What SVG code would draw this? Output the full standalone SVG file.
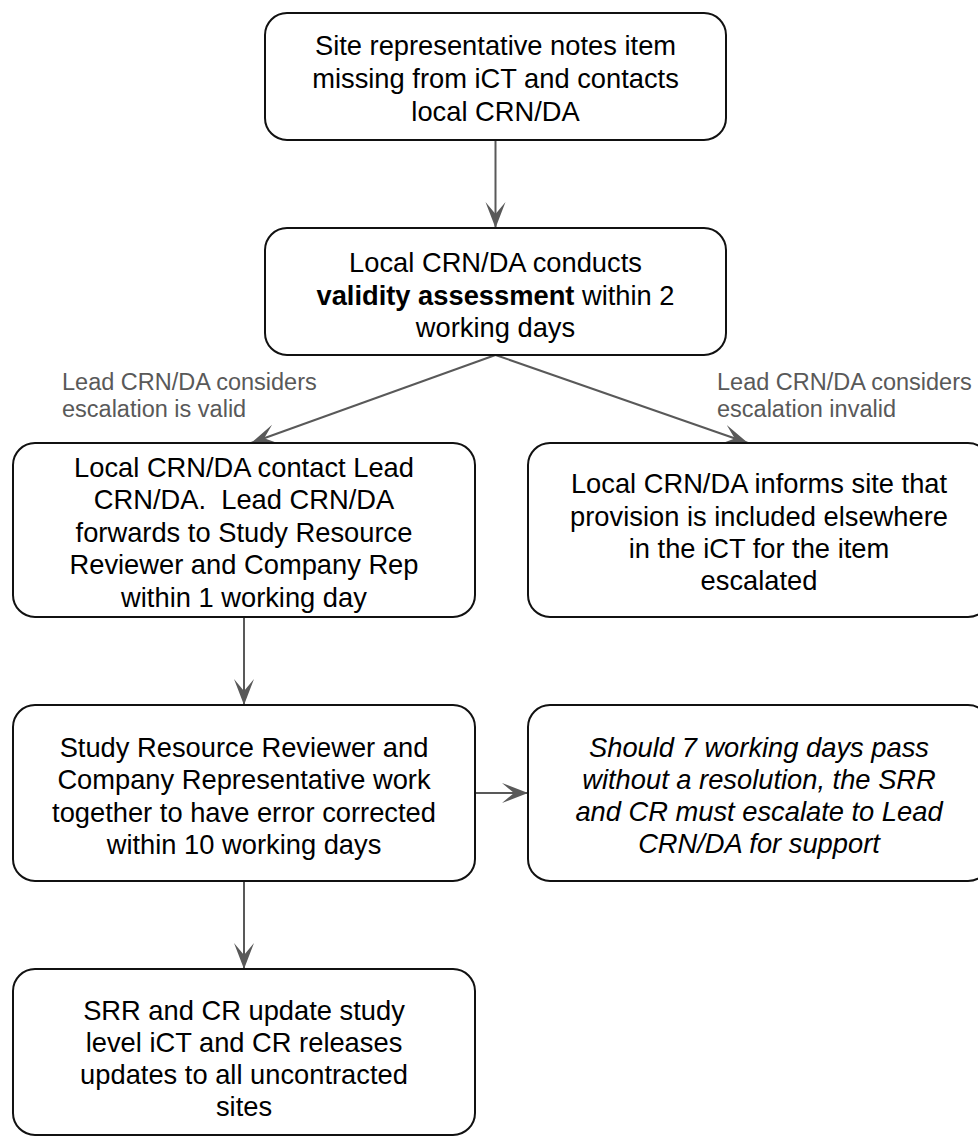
<svg xmlns="http://www.w3.org/2000/svg" width="978" height="1137" viewBox="0 0 978 1137">
<style>
.box{fill:#fff;stroke:#111;stroke-width:2}
.t{font-family:"Liberation Sans",Arial,sans-serif;font-size:27.3px;fill:#000;text-anchor:middle}
.i{font-style:italic}
.lbl{font-family:"Liberation Sans",Arial,sans-serif;font-size:23.5px;fill:#595959}
.c{stroke:#595959;stroke-width:2;fill:none}
</style>
<defs>
<marker id="ah" markerUnits="userSpaceOnUse" markerWidth="28" markerHeight="22" refX="26" refY="10" orient="auto">
<path d="M0,0 L26,10 L0,20 L12,10 Z" fill="#595959"/>
</marker>
</defs>
<rect width="978" height="1137" fill="#fff"/>
<g id="connectors">
<line class="c" x1="495.5" y1="141" x2="495.5" y2="228" marker-end="url(#ah)"/>
<line class="c" x1="495.5" y1="355" x2="251" y2="443" marker-end="url(#ah)"/>
<line class="c" x1="495.5" y1="355" x2="748" y2="443" marker-end="url(#ah)"/>
<line class="c" x1="244" y1="617" x2="244" y2="705" marker-end="url(#ah)"/>
<line class="c" x1="475" y1="793" x2="528" y2="793" marker-end="url(#ah)"/>
<line class="c" x1="244" y1="881" x2="244" y2="969" marker-end="url(#ah)"/>
<text class="lbl" x="62" y="390">Lead CRN/DA considers</text>
<text class="lbl" x="62" y="417">escalation is valid</text>
<text class="lbl" x="717" y="390">Lead CRN/DA considers</text>
<text class="lbl" x="717" y="417">escalation invalid</text>
</g>
<g id="n1">
<rect class="box" x="265" y="13" width="461" height="127" rx="22"/>
<text class="t" x="495.5" y="55">Site representative notes item</text>
<text class="t" x="495.5" y="88">missing from iCT and contacts</text>
<text class="t" x="495.5" y="120.5">local CRN/DA</text>
</g>
<g id="n2">
<rect class="box" x="265" y="228" width="461" height="127" rx="22"/>
<text class="t" x="495.5" y="272">Local CRN/DA conducts</text>
<text class="t" x="495.5" y="305"><tspan font-weight="bold">validity assessment</tspan> within 2</text>
<text class="t" x="495.5" y="337">working days</text>
</g>
<g id="n3">
<rect class="box" x="13" y="443" width="462" height="174" rx="22"/>
<text class="t" x="244" y="477">Local CRN/DA contact Lead</text>
<text class="t" x="244" y="509" xml:space="preserve">CRN/DA.  Lead CRN/DA</text>
<text class="t" x="244" y="542">forwards to Study Resource</text>
<text class="t" x="244" y="574">Reviewer and Company Rep</text>
<text class="t" x="244" y="607">within 1 working day</text>
</g>
<g id="n4">
<rect class="box" x="528" y="443" width="462" height="174" rx="22"/>
<text class="t" x="759" y="493">Local CRN/DA informs site that</text>
<text class="t" x="759" y="526">provision is included elsewhere</text>
<text class="t" x="759" y="558">in the iCT for the item</text>
<text class="t" x="759" y="590">escalated</text>
</g>
<g id="n5">
<rect class="box" x="13" y="705" width="462" height="176" rx="22"/>
<text class="t" x="244" y="757">Study Resource Reviewer and</text>
<text class="t" x="244" y="789">Company Representative work</text>
<text class="t" x="244" y="822">together to have error corrected</text>
<text class="t" x="244" y="854">within 10 working days</text>
</g>
<g id="n6">
<rect class="box" x="528" y="705" width="462" height="176" rx="22"/>
<text class="t i" x="759" y="757">Should 7 working days pass</text>
<text class="t i" x="759" y="789">without a resolution, the SRR</text>
<text class="t i" x="759" y="821">and CR must escalate to Lead</text>
<text class="t i" x="759" y="853">CRN/DA for support</text>
</g>
<g id="n7">
<rect class="box" x="13" y="969" width="462" height="166" rx="22"/>
<text class="t" x="244" y="1020">SRR and CR update study</text>
<text class="t" x="244" y="1052">level iCT and CR releases</text>
<text class="t" x="244" y="1084">updates to all uncontracted</text>
<text class="t" x="244" y="1116">sites</text>
</g>
</svg>
